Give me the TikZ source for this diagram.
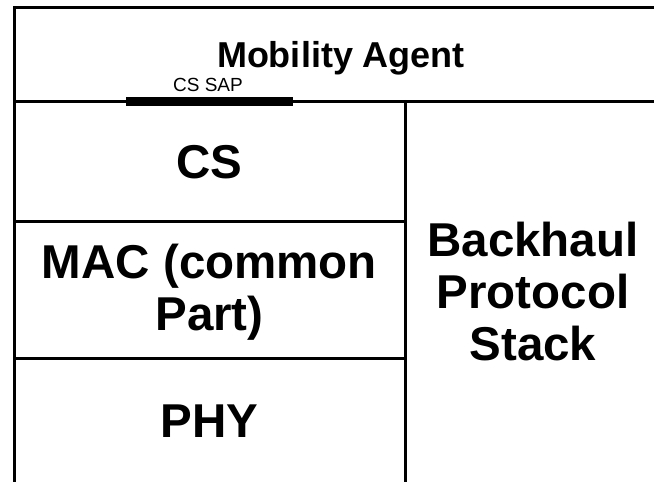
\documentclass[tikz,border=0pt]{standalone}
\usepackage{fontspec}
\setmainfont{Liberation Sans}
\begin{document}
\begin{tikzpicture}[x=1pt,y=-1pt,
  frame/.style={line width=3pt, line join=miter},
  sapbar/.style={line width=9pt},
  big/.style={font=\fontsize{47.5}{52}\selectfont\bfseries, align=center, inner sep=0pt},
  title/.style={font=\fontsize{36}{40}\selectfont\bfseries, inner sep=0pt},
  small/.style={font=\fontsize{19}{22}\selectfont, inner sep=0pt}]
\useasboundingbox (0,0) rectangle (654,482);
% layer boundaries
\coordinate (tr) at (654,7);
\coordinate (tl) at (14,7);
\coordinate (bl) at (14,482);
\coordinate (ml) at (14,101);
\coordinate (mr) at (654,101);
\coordinate (vt) at (405,101);
\coordinate (vb) at (405,482);
\coordinate (csl) at (14,221);
\coordinate (csr) at (405,221);
\coordinate (macl) at (14,358);
\coordinate (macr) at (405,358);
\coordinate (sapl) at (126,101);
\coordinate (sapr) at (293,101);
\draw[frame] (tr) -- (tl) -- (bl);
\draw[frame] (ml) -- (mr);
\draw[frame] (vt) -- (vb);
\draw[frame] (csl) -- (csr);
\draw[frame] (macl) -- (macr);
\draw[sapbar] (sapl) -- (sapr);
% labels
\node[title, anchor=base] (ma) at (341,67) {Mobility Agent};
\node[small, anchor=base] (sap) at (208,91) {CS SAP};
\node[big, anchor=base] (cs) at (209.5,178) {CS};
\node[big, anchor=center] (mac) at (209.5,292) {MAC (common\\Part)};
\node[big, anchor=base] (phy) at (209.5,437) {PHY};
\node[big, anchor=center] (bh) at (533,292) {Backhaul\\Protocol\\Stack};
\end{tikzpicture}
\end{document}
